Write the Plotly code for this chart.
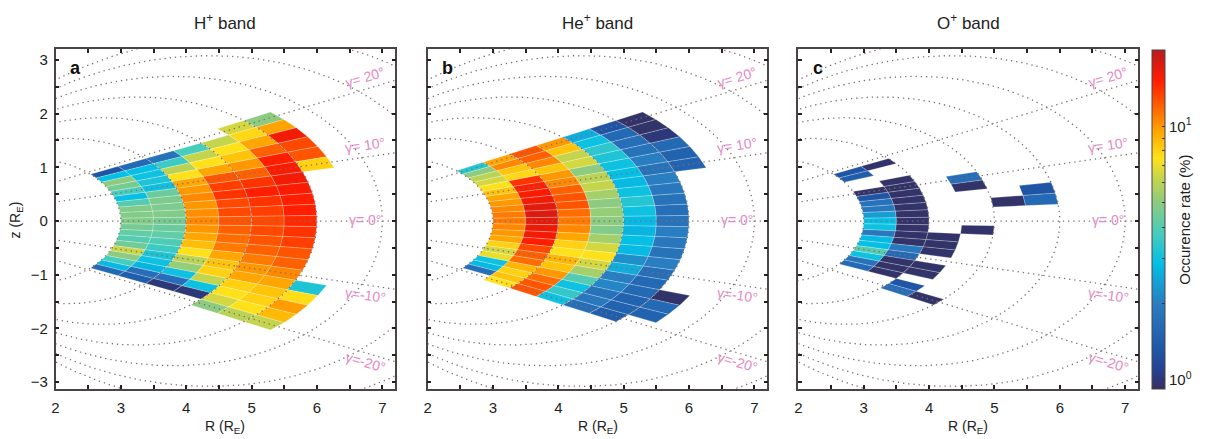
import numpy as np
import plotly.graph_objects as go
from plotly.colors import sample_colorscale

# ------------------------------------------------------------------ data
# Occurrence rate (%) per (L, magnetic latitude) bin.
# Each column: inner L of a 0.5-wide L bin, latitude of the top edge (deg),
# values from top to bottom in 2-degree latitude steps (None = no data).
LAT_STEP = 2.0
L_WIDTH = 0.5

h_L30 = [1.3, 2.9, 5.0, 4.6, 3.8, 2.9, 4.0, 4.8, 4.8, 4.8, 4.6, 4.2, 4.0, 4.5, 6.3, 5.0, 3.8, 2.8, 1.6]
h_L35 = [1.6, 2.9, 3.0, 3.2, 3.0, 4.4, 4.7, 4.7, 4.8, 4.6, 4.4, 4.2, 3.9, 3.6, 3.2, 3.0, 2.7, 1.7, 1.4]
h_L40 = [1.8, 3.6, 6.0, 7.5, 9.5, 10.0, 10.5, 10.0, 10.3, 10.5, 10.0, 9.5, 8.7, 7.5, 6.0, 5.2, 3.0, 1.7, 1.0]
h_L45 = [3.8, 6.2, 7.5, 9.5, 12.5, 13.5, 14.0, 13.0, 13.0, 12.5, 12.0, 11.5, 11.0, 9.5, 8.5, 8.0, 6.2, 3.0, 1.0]
h_L50 = [6.2, 7.5, 8.5, 10.0, 12.0, 14.0, 15.0, 14.0, 13.5, 13.0, 13.0, 12.5, 12.0, 11.0, 10.0, 9.5, 8.0, 7.5, 6.5, 5.0]
h_L55 = [6.5, 7.8, 9.5, 12.0, 15.0, 15.5, 16.0, 15.5, 15.0, 15.0, 14.5, 14.0, 13.5, 12.5, 12.0, 10.5, 9.5, 8.5, 8.0, 7.5, 6.0]
h_L60_north = [5.0, 9.6, 16.0, 13.0, 12.5, 8.0]
h_L60_south = [3.2, 7.6, 9.8, 8.8, 6.2]

he_L30 = [3.3, 5.0, 6.0, 6.5, 7.5, 8.5, 9.5, 10.0, 10.5, 11.0, 11.0, 10.5, 10.0, 9.5, 8.0, 6.5, 7.0, 3.0, 2.8, 1.7]
he_L35 = [9.5, 10.5, 8.5, 7.8, 14.0, 15.0, 15.5, 16.0, 17.0, 17.5, 17.0, 16.5, 16.0, 15.0, 13.0, 12.0, 11.5, 9.0, 8.0, 8.5, 7.5]
he_L40 = [12.5, 12.0, 10.5, 8.5, 10.0, 10.5, 12.0, 12.5, 12.5, 11.5, 11.0, 10.5, 9.5, 8.0, 7.5, 9.0, 8.5, 10.0, 11.5, 12.5, 12.5]
he_L45 = [10.0, 8.5, 6.2, 6.5, 5.0, 6.0, 6.2, 5.5, 5.0, 5.2, 5.0, 4.8, 5.5, 6.5, 7.5, 6.5, 5.5, 4.0, 3.0, 3.5, 3.0]
he_L50 = [2.6, 3.0, 3.4, 3.2, 3.0, 2.9, 2.8, 3.0, 3.3, 3.0, 2.8, 2.7, 2.9, 2.8, 2.2, 2.6, 2.0, 2.1, 1.8, 1.9, 1.7]
he_L55 = [1.3, 1.6, 1.7, 1.8, 2.0, 1.8, 2.0, 1.9, 1.8, 1.7, 1.8, 2.0, 1.9, 1.8, 2.0, 1.7, 1.6, 1.6, 1.5, 1.5, 1.4]
he_L60_north = [0.95, 0.95, 1.0, 1.6, 1.5, 1.5]
he_L60_south = [0.95, 1.6, 1.5]

o_L30 = [1.3, 1.4, None, None, 0.95, 1.3, 1.8, 1.9, 2.4, 2.9, 3.0, 1.9, 2.8, 2.9, 4.0, 3.0, 1.8, 1.6]
o_L35 = [0.95, None, None, 0.95, 0.95, 0.95, 0.95, 0.95, 0.95, 0.95, 0.95, 0.95, 0.95, 1.9, 1.6, 0.95, 0.95, 0.95]
o_L40 = [0.95, 0.95, 0.95, None, 0.95, 0.95, None, 1.3, 1.7]
o_L45 = [1.7, 0.95, None, None, None, None, 0.95, None, None, None, None, None, None, None, None, 0.95]
o_L50 = [0.95]
o_L55 = [1.3, 1.6]

H_BAND = [(3.0, 19, h_L30), (3.5, 19, h_L35), (4.0, 19, h_L40), (4.5, 19, h_L45),
          (5.0, 19, h_L50), (5.5, 21, h_L55), (6.0, 21, h_L60_north), (6.0, -11, h_L60_south)]
HE_BAND = [(3.0, 21, he_L30), (3.5, 21, he_L35), (4.0, 21, he_L40), (4.5, 21, he_L45),
           (5.0, 21, he_L50), (5.5, 21, he_L55), (6.0, 21, he_L60_north), (6.0, -13, he_L60_south)]
O_BAND = [(3.0, 19, o_L30), (3.5, 19, o_L35), (4.0, -3, o_L40), (4.5, 11, o_L45),
          (5.0, 5, o_L50), (5.5, 7, o_L55)]

PANELS = [("H<sup>+</sup> band", "a", H_BAND),
          ("He<sup>+</sup> band", "b", HE_BAND),
          ("O<sup>+</sup> band", "c", O_BAND)]

FIELD_LINES_L = [3, 4, 5, 6, 7, 8, 9]
GAMMA_LINES = [20, 10, 0, -10, -20]

C_MIN, C_MAX = 0.92, 20.0

# ------------------------------------------------------------------ style
COLORSCALE = [
    [0.00, "#35305e"], [0.05, "#263f8e"], [0.12, "#1f58a8"], [0.25, "#2a7cc0"],
    [0.37, "#03bfe6"], [0.46, "#48ccbc"], [0.55, "#8ccb80"], [0.62, "#c4d54d"],
    [0.68, "#ffe21a"], [0.75, "#ffae00"], [0.83, "#ff6400"], [0.91, "#ff1c00"],
    [1.00, "#bb1a1e"],
]
FONT = "Liberation Sans, Arial, Helvetica, sans-serif"
AXIS_COLOR = "#4a4444"
PINK = "#e58ac5"
DOT_COLOR = "#7d6e6e"

lo, hi = np.log10(C_MIN), np.log10(C_MAX)


def color_of(v):
    f = (np.log10(v) - lo) / (hi - lo)
    return sample_colorscale(COLORSCALE, [float(np.clip(f, 0, 1))])[0]


def dipole(L, lat_deg):
    lam = np.radians(lat_deg)
    return L * np.cos(lam) ** 3, L * np.cos(lam) ** 2 * np.sin(lam)


fig = go.Figure()

X_DOMAINS = [(51.7 / 1215, 392.7 / 1215), (425 / 1215, 766 / 1215), (797 / 1215, 1138 / 1215)]
Y_DOMAIN = (1 - 390 / 439, 1 - 49.3 / 439)
X_RANGE = [2, 7.2]
Y_RANGE = [-3.13, 3.2]
DOTS = "1.3px,3.9px"

annotations = []
for p, (title, letter, columns) in enumerate(PANELS):
    xa = "x" if p == 0 else f"x{p + 1}"
    ya = "y" if p == 0 else f"y{p + 1}"
    # cells
    for L_in, lat_top, values in columns:
        for k, v in enumerate(values):
            if v is None:
                continue
            t = lat_top - k * LAT_STEP
            b = t - LAT_STEP
            lats = np.linspace(t, b, 6)
            r1, z1 = dipole(L_in, lats)
            r2, z2 = dipole(L_in + L_WIDTH, lats[::-1])
            xs = np.concatenate([r1, r2, r1[:1]])
            ys = np.concatenate([z1, z2, z1[:1]])
            fig.add_trace(go.Scatter(
                x=xs, y=ys, mode="lines", fill="toself", fillcolor=color_of(v),
                line=dict(color="rgba(255,255,255,0.45)", width=0.5),
                hoverinfo="skip", showlegend=False, xaxis=xa, yaxis=ya))
    # dotted field lines
    lat_full = np.linspace(-70, 70, 500)
    for L in FIELD_LINES_L:
        r, z = dipole(L, lat_full)
        fig.add_trace(go.Scatter(x=r, y=z, mode="lines",
                                 line=dict(color=DOT_COLOR, width=1.3, dash=DOTS),
                                 hoverinfo="skip", showlegend=False, xaxis=xa, yaxis=ya))
    # dotted constant-latitude lines
    for g in GAMMA_LINES:
        rr = np.array([0.0, 8.0])
        fig.add_trace(go.Scatter(x=rr, y=rr * np.tan(np.radians(g)), mode="lines",
                                 line=dict(color=DOT_COLOR, width=1.3, dash=DOTS),
                                 hoverinfo="skip", showlegend=False, xaxis=xa, yaxis=ya))
    # gamma labels
    sx = (X_DOMAINS[p][1] - X_DOMAINS[p][0]) * 1215 / (X_RANGE[1] - X_RANGE[0])
    sy = (Y_DOMAIN[1] - Y_DOMAIN[0]) * 439 / (Y_RANGE[1] - Y_RANGE[0])
    for g in GAMMA_LINES:
        r_lab = 6.74
        z_lab = r_lab * np.tan(np.radians(g)) + (0.22 if g > 0 else (-0.18 if g < 0 else 0.02))
        ang = -np.degrees(np.arctan(np.tan(np.radians(g)) * sy / sx))
        txt = f"\u03b3= {g}\u00b0" if g >= 0 else f"\u03b3={g}\u00b0"
        annotations.append(dict(x=r_lab, y=z_lab, xref=xa, yref=ya, text=txt,
                                xanchor="center", yanchor="middle",
                                showarrow=False, textangle=ang,
                                font=dict(family=FONT, size=14, color=PINK)))
    cx = (X_DOMAINS[p][0] + X_DOMAINS[p][1]) / 2
    annotations.append(dict(x=cx, y=1 - 22 / 439, xref="paper", yref="paper", text=title,
                            xanchor="center", yanchor="middle", showarrow=False,
                            font=dict(family=FONT, size=17, color="#222")))
    annotations.append(dict(x=X_DOMAINS[p][0] + 20 / 1215, y=1 - 68 / 439, xref="paper",
                            yref="paper", text=f"<b>{letter}</b>", showarrow=False,
                            xanchor="center", yanchor="middle",
                            font=dict(family=FONT, size=18, color="#111")))
    annotations.append(dict(x=cx, y=1 - 428 / 439, xref="paper", yref="paper",
                            text="R (R<sub>E</sub>)", showarrow=False,
                            xanchor="center", yanchor="middle",
                            font=dict(family=FONT, size=14, color="#222")))

annotations.append(dict(x=13 / 1215, y=1 - 220 / 439, xref="paper", yref="paper",
                        text="z (R<sub>E</sub>)", showarrow=False, textangle=-90,
                        xanchor="center", yanchor="middle",
                        font=dict(family=FONT, size=14, color="#222")))

# colorbar carrier
log_ticks = [np.log10(v) for v in [1, 2, 3, 4, 5, 6, 7, 8, 9, 10, 20]]
fig.add_trace(go.Scatter(
    x=[None], y=[None], mode="markers", showlegend=False, hoverinfo="skip",
    marker=dict(color=[lo], cmin=lo, cmax=hi, colorscale=COLORSCALE, showscale=True,
                colorbar=dict(
                    x=1151.7 / 1215, xanchor="left", y=1 - 390 / 439, yanchor="bottom",
                    len=340 / 439, lenmode="fraction", thickness=13, thicknessmode="pixels",
                    xpad=0, ypad=0,
                    outlinecolor=AXIS_COLOR, outlinewidth=1,
                    tickvals=log_ticks,
                    ticktext=["10<sup>0</sup>"] + [""] * 8 + ["10<sup>1</sup>", ""],
                    ticks="inside", ticklen=3, tickcolor="#333",
                    tickfont=dict(family=FONT, size=15, color="#222"),
                    title=dict(text="Occurence rate (%)", side="right",
                               font=dict(family=FONT, size=15, color="#222")),
                ))))

axis_common = dict(showgrid=False, zeroline=False, showline=True, linecolor=AXIS_COLOR,
                   linewidth=1.5, mirror="ticks", ticks="inside", ticklen=4, tickwidth=1.5,
                   tickcolor="#222", dtick=1,
                   minor=dict(ticks="inside", ticklen=4, tickwidth=1.5, tickcolor="#222", dtick=0.5),
                   tickfont=dict(family=FONT, size=15, color="#222"))

layout = dict(width=1215, height=439, margin=dict(l=0, r=0, t=0, b=0),
              paper_bgcolor="white", plot_bgcolor="white", annotations=annotations,
              showlegend=False)
for p in range(3):
    sfx = "" if p == 0 else str(p + 1)
    layout[f"xaxis{sfx}"] = dict(axis_common, domain=list(X_DOMAINS[p]), range=X_RANGE,
                                 anchor=f"y{sfx}", tick0=2, ticklabelstandoff=4)
    layout[f"yaxis{sfx}"] = dict(axis_common, domain=list(Y_DOMAIN), range=Y_RANGE,
                                 anchor=f"x{sfx}", tick0=0, showticklabels=(p == 0),
                                 ticklabelstandoff=3)
fig.update_layout(**layout)

fig.write_html("out.html")
